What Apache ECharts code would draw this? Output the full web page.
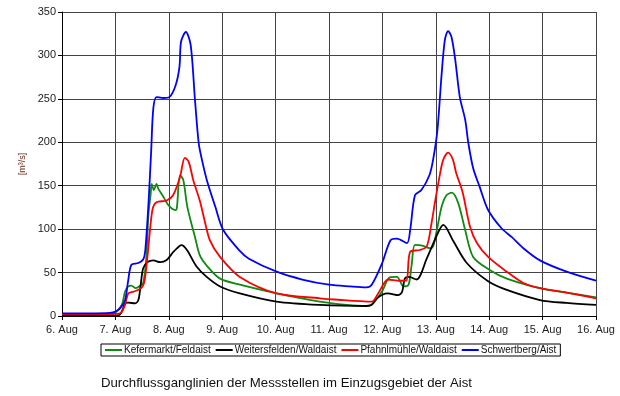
<!DOCTYPE html>
<html>
<head>
<meta charset="utf-8">
<script src="https://cdn.jsdelivr.net/npm/echarts@6/dist/echarts.min.js"></script>
<style>
  html, body { margin: 0; padding: 0; background: #fff; }
  #chart { width: 620px; height: 396px; }
</style>
</head>
<body>
<div id="chart"></div>
<script>
// Durchfluss-Ganglinien, x = Tage ab 6. Aug 0:00
const dayLabels = ['6. Aug', '7. Aug', '8. Aug', '9. Aug', '10. Aug', '11. Aug',
                   '12. Aug', '13. Aug', '14. Aug', '15. Aug', '16. Aug'];
const seriesNames = ['Kefermarkt/Feldaist', 'Weitersfelden/Waldaist', 'Pfahnlmühle/Waldaist', 'Schwertberg/Aist'];

const kefermarkt = [
    [0, 1.5], [0.9, 1.5], [1.0, 4], [1.12, 12.7], [1.18, 28], [1.24, 34], [1.3, 35], [1.38, 32],
    [1.47, 35], [1.52, 38], [1.57, 60], [1.59, 80], [1.62, 118], [1.66, 140], [1.68, 152], [1.72, 145],
    [1.77, 152], [1.8, 147], [1.9, 137], [2.0, 127], [2.12, 122], [2.15, 124], [2.21, 162], [2.27, 157],
    [2.34, 128], [2.4, 112], [2.49, 91], [2.58, 70], [2.71, 58], [2.96, 43], [3.33, 36], [4.02, 26],
    [4.83, 16.5], [5.7, 11.5], [5.8, 13], [5.99, 28], [6.14, 44.5], [6.27, 45], [6.4, 34], [6.49, 36],
    [6.55, 60], [6.61, 82], [6.75, 81], [6.89, 78], [6.95, 80], [7.02, 99], [7.11, 126], [7.2, 139],
    [7.3, 142], [7.42, 130], [7.55, 99], [7.7, 68], [8.01, 53], [8.33, 43], [8.95, 32], [9.45, 27], [10, 21.5]
];
const weitersfelden = [
    [0, 0.5], [1.0, 0.5], [1.08, 1.5], [1.12, 5], [1.18, 14.6], [1.24, 15.4], [1.37, 14.6], [1.43, 18.4],
    [1.47, 34], [1.52, 55], [1.6, 62], [1.71, 64], [1.84, 62], [1.96, 64.5], [2.09, 74], [2.24, 81.7],
    [2.34, 76], [2.52, 57], [2.71, 45], [2.96, 34], [3.33, 26], [4.02, 16.5], [4.83, 12.7], [5.7, 11.5],
    [5.8, 13], [5.89, 20], [6.0, 24.5], [6.1, 26], [6.3, 24], [6.37, 28], [6.42, 43], [6.5, 45],
    [6.64, 42], [6.83, 66], [7.05, 97], [7.14, 105], [7.33, 86], [7.58, 61], [7.98, 40], [8.33, 30],
    [8.95, 18.4], [9.45, 15], [10, 12.7]
];
const pfahnlmuehle = [
    [0, 2], [1.0, 2.5], [1.1, 3.5], [1.18, 12.7], [1.24, 26], [1.34, 28], [1.46, 31], [1.51, 34],
    [1.55, 42], [1.6, 68], [1.65, 100], [1.7, 124], [1.77, 131], [1.96, 133], [2.08, 139], [2.21, 160],
    [2.3, 182], [2.37, 178], [2.46, 156], [2.58, 133], [2.67, 110], [2.77, 87], [2.96, 68], [3.33, 45],
    [4.02, 26], [4.83, 20.4], [5.1, 19], [5.8, 16.5], [5.92, 26], [6.11, 42], [6.33, 40.6], [6.45, 41],
    [6.52, 74], [6.7, 76], [6.83, 80], [6.92, 107], [6.99, 133], [7.08, 164], [7.14, 180], [7.23, 188],
    [7.32, 180], [7.38, 165], [7.5, 143], [7.64, 103], [7.77, 84], [7.98, 68], [8.33, 51], [8.64, 38],
    [8.95, 32], [9.45, 27], [10, 20.4]
];
const schwertberg = [
    [0, 3], [0.5, 3], [0.9, 3.5], [1.0, 5], [1.09, 9], [1.18, 18], [1.24, 41], [1.3, 59], [1.43, 61],
    [1.52, 65], [1.56, 76], [1.62, 130], [1.67, 190], [1.71, 239], [1.77, 252], [1.9, 251], [2.01, 252],
    [2.13, 266], [2.2, 287], [2.23, 316], [2.32, 327], [2.41, 312], [2.49, 249], [2.56, 199], [2.62, 180],
    [2.71, 157], [2.87, 126], [3.02, 99], [3.33, 75], [3.5, 66], [4.02, 51], [4.5, 42], [5.0, 36],
    [5.4, 34], [5.7, 33], [5.8, 36], [5.99, 60], [6.15, 87], [6.27, 89], [6.46, 84], [6.52, 99],
    [6.61, 139], [6.73, 145], [6.88, 162], [6.95, 180], [7.03, 214], [7.11, 279], [7.17, 318], [7.23, 328],
    [7.29, 322], [7.36, 297], [7.45, 252], [7.55, 226], [7.61, 199], [7.7, 170], [7.82, 149], [7.98, 122],
    [8.23, 101], [8.42, 91], [8.64, 78], [8.95, 64], [9.45, 51], [10, 40.6]
];

const seriesData = [kefermarkt, weitersfelden, pfahnlmuehle, schwertberg];
const seriesColors = ['#108a10', '#000000', '#ff0000', '#0000ff'];

const FONT = 'Liberation Sans, Arial, sans-serif';
const chart = echarts.init(document.getElementById('chart'));

const option = {
    animation: false,
    title: {
        text: 'Durchflussganglinien der Messstellen im Einzugsgebiet der Aist',
        left: 96,
        top: 372,
        textStyle: { fontSize: 13.2, fontWeight: 'normal', color: '#111', fontFamily: FONT }
    },
    legend: {
        data: seriesNames,
        left: 101,
        top: 344,
        padding: [1, 4, 1, 4],
        itemGap: 5,
        icon: 'rect',
        itemWidth: 17,
        itemHeight: 2,
        borderColor: '#000',
        borderWidth: 1,
        borderRadius: 0,
        textStyle: { fontSize: 10, color: '#111', fontFamily: FONT, padding: [0, 0, 0, -3] }
    },
    grid: { left: 62, right: 24, top: 12, bottom: 80 },
    xAxis: {
        type: 'value',
        min: 0,
        max: 10,
        interval: 1,
        axisLine: { lineStyle: { color: '#000', width: 1 } },
        axisTick: { show: true, length: 4, lineStyle: { color: '#000' } },
        axisLabel: {
            formatter: v => dayLabels[v],
            color: '#222',
            fontSize: 11,
            fontFamily: FONT,
            margin: 8
        },
        splitLine: { show: true, lineStyle: { color: '#444', width: 1 } }
    },
    yAxis: {
        type: 'value',
        min: 0,
        max: 350,
        interval: 50,
        name: '[m³/s]',
        nameLocation: 'middle',
        nameRotate: 90,
        nameGap: 30,
        nameTextStyle: { color: '#6a2a1c', fontSize: 9, fontFamily: FONT },
        axisLine: { show: true, lineStyle: { color: '#000', width: 1 } },
        axisTick: { show: true, length: 4, lineStyle: { color: '#000' } },
        axisLabel: { color: '#222', fontSize: 11, fontFamily: FONT, margin: 6 },
        splitLine: { show: true, lineStyle: { color: '#444', width: 1 } }
    },
    series: seriesNames.map((name, i) => ({
        name: name,
        type: 'line',
        data: seriesData[i],
        symbol: 'none',
        smooth: 0.3,
        lineStyle: { color: seriesColors[i], width: 1.8 },
        itemStyle: { color: seriesColors[i] },
        z: 2 + i
    }))
};

chart.setOption(option);
</script>
</body>
</html>
